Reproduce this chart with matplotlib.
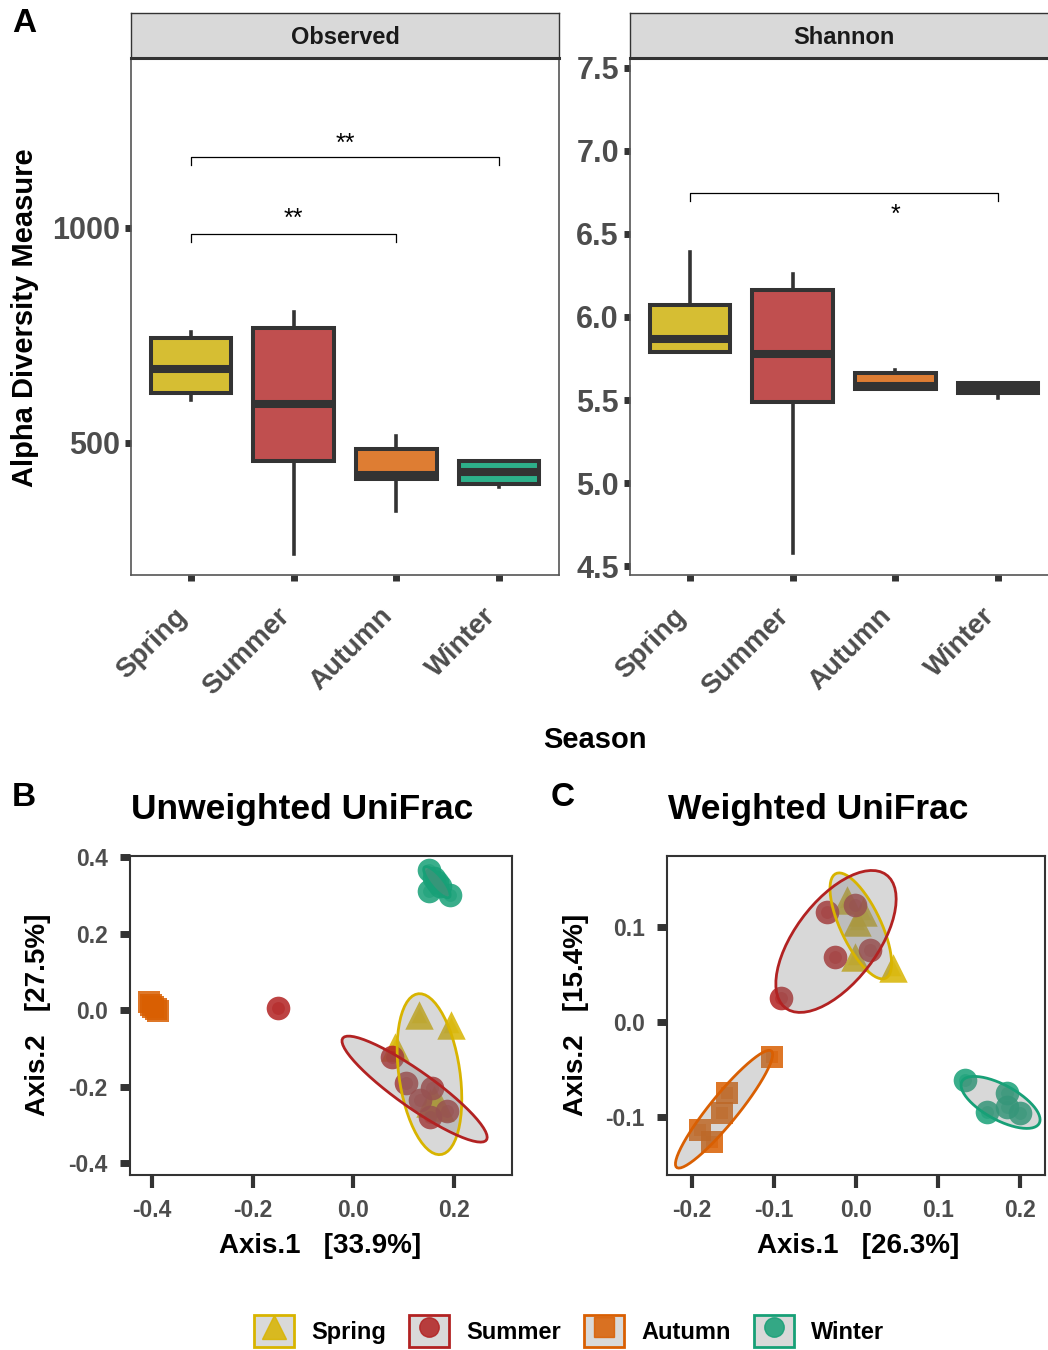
import numpy as np
import matplotlib
matplotlib.use("Agg")
import matplotlib.pyplot as plt
from matplotlib.patches import Polygon, Patch
from matplotlib.lines import Line2D
from matplotlib.legend_handler import HandlerTuple
from matplotlib.transforms import ScaledTranslation

plt.rcParams['font.family'] = ['Liberation Sans', 'DejaVu Sans']
plt.rcParams['font.weight'] = 'bold'

W, H = 1048, 1350

seasons = ['Spring', 'Summer', 'Autumn', 'Winter']
box_fill = ['#D6BE33', '#C04F4F', '#DE7D33', '#2DB08A']
pt_col = ['#D8B400', '#B22222', '#D95F02', '#17A077']
markers = ['^', 'o', 's', 'o']
pt_size = [420, 290, 260, 290]
ell_level = 0.8

# Panel A - Observed richness (box stats)
obs_lo = [600, 242, 342, 398]
obs_q1 = [616, 458, 416, 405]
obs_med = [672, 591, 426, 433]
obs_q3 = [744, 767, 486, 458]
obs_hi = [758, 805, 516, 458]

# Panel A - Shannon
sha_lo = [5.79, 4.58, 5.566, 5.51]
sha_q1 = [5.79, 5.49, 5.566, 5.54]
sha_med = [5.87, 5.78, 5.584, 5.57]
sha_q3 = [6.07, 6.16, 5.663, 5.60]
sha_hi = [6.39, 6.26, 5.68, 5.60]

# significance brackets: (from, to, height, label) and where the stars sit
obs_sig = [(1, 4, 1165, '**'), (1, 3, 986, '**')]
obs_star = [(2.5, 1180), (2.0, 1004)]
sha_sig = [(1, 4, 6.747, '*')]
sha_star = [(3.0, 6.575)]

# Panel B - unweighted UniFrac PCoA
unw_x = {
    'Spring': [0.131, 0.194, 0.083, 0.152, 0.172, 0.160],
    'Summer': [-0.150, 0.077, 0.156, 0.133, 0.152, 0.105, 0.185],
    'Autumn': [-0.406, -0.401, -0.397, -0.392, -0.388],
    'Winter': [0.150, 0.160, 0.166, 0.172, 0.150, 0.192],
}
unw_y = {
    'Spring': [-0.013, -0.039, -0.097, -0.243, -0.254, -0.235],
    'Summer': [0.005, -0.123, -0.204, -0.235, -0.280, -0.190, -0.265],
    'Autumn': [0.020, 0.014, 0.009, 0.003, -0.002],
    'Winter': [0.365, 0.346, 0.335, 0.325, 0.312, 0.300],
}

# Panel C - weighted UniFrac PCoA
wu_x = {
    'Spring': [-0.011, 0.009, 0.001, -0.001, 0.045],
    'Summer': [-0.035, -0.001, -0.026, 0.017, -0.091],
    'Autumn': [-0.102, -0.157, -0.163, -0.190, -0.176],
    'Winter': [0.133, 0.160, 0.184, 0.184, 0.200],
}
wu_y = {
    'Spring': [0.128, 0.116, 0.105, 0.068, 0.057],
    'Summer': [0.116, 0.123, 0.068, 0.076, 0.025],
    'Autumn': [-0.037, -0.075, -0.096, -0.114, -0.126],
    'Winter': [-0.061, -0.095, -0.075, -0.089, -0.096],
}


def add_ax(x0, y0, x1, y1):
    return fig.add_axes([x0 / W, 1 - y1 / H, (x1 - x0) / W, (y1 - y0) / H])


def cov_trob(pts, nu=5, maxit=25, tol=0.01):
    """t-distribution robust covariance (like MASS::cov.trob)"""
    n, p = pts.shape
    loc = pts.mean(0)
    w = np.ones(n)
    for _ in range(maxit):
        w0 = w
        X = pts - loc
        u, d, vt = np.linalg.svd(np.sqrt(w / w.sum())[:, None] * X, full_matrices=False)
        d = np.maximum(d, 1e-9)
        wX = X @ vt.T / d
        Q = (wX ** 2).sum(1)
        w = (nu + p) / (nu + Q)
        loc = (w[:, None] * pts).sum(0) / w.sum()
        if np.all(np.abs(w - w0) < tol):
            break
    sX = np.sqrt(w)[:, None] * X
    return loc, sX.T @ sX / n


def ellipse_pts(xs, ys, level=0.95, seg=60):
    pts = np.column_stack([xs, ys])
    center, shape = cov_trob(pts)
    dfd = len(xs) - 1
    fq = dfd / 2 * ((1 - level) ** (-2 / dfd) - 1)
    radius = np.sqrt(2 * fq)
    L = np.linalg.cholesky(shape + np.eye(2) * 1e-10)
    ang = np.linspace(0, 2 * np.pi, seg)
    circ = np.column_stack([np.cos(ang), np.sin(ang)])
    return center + radius * circ @ L.T


fig = plt.figure(figsize=(W / 100, H / 100), dpi=100)
shift = ScaledTranslation(-0.17, -0.17, fig.dpi_scale_trans)


def box_panel(ax, lo, q1, med, q3, hi, sig, star, ylim, yticks, drop):
    stats = []
    for i in range(4):
        stats.append(dict(whislo=lo[i], q1=q1[i], med=med[i], q3=q3[i], whishi=hi[i]))
    bp = ax.bxp(stats, positions=[1, 2, 3, 4], widths=0.78, showfliers=False,
                showcaps=False, patch_artist=True,
                boxprops=dict(edgecolor='#333333', linewidth=2.9),
                whiskerprops=dict(color='#333333', linewidth=2.6),
                medianprops=dict(color='#333333', linewidth=5.8, solid_capstyle='butt'))
    for patch, c in zip(bp['boxes'], box_fill):
        patch.set_facecolor(c)
    for (a, b, yv, lab), sy in zip(sig, star):
        ax.plot([a, a, b, b], [yv - drop, yv, yv, yv - drop], color='black', lw=0.9)
        ax.text(sy[0], sy[1], lab, ha='center', va='baseline', fontsize=18,
                fontweight='normal')
    ax.set_xlim(0.42, 4.58)
    ax.set_ylim(*ylim)
    ax.set_yticks(yticks)
    ax.set_yticklabels([('%g' % v) if v >= 100 else ('%.1f' % v) for v in yticks])
    ax.set_xticks([1, 2, 3, 4])
    ax.set_xticklabels(seasons, rotation=45, ha='right', va='top',
                       rotation_mode='anchor')
    ax.tick_params(length=4, width=5, color='#333333', labelcolor='#4d4d4d',
                   labelsize=22, pad=4)
    for t in ax.get_xticklabels():
        t.set_fontsize(20)
        t.set_transform(t.get_transform() + shift)
    for s in ax.spines.values():
        s.set_color('#555555')
        s.set_linewidth(1.2)


def strip(x0, x1, label):
    sa = add_ax(x0, 13, x1, 58)
    sa.set_facecolor('#d9d9d9')
    sa.set_xticks([])
    sa.set_yticks([])
    for s in sa.spines.values():
        s.set_color('#333333')
        s.set_linewidth(1.0)
    sa.spines['bottom'].set_linewidth(2.2)
    sa.text(0.5, 0.45, label, transform=sa.transAxes, ha='center', va='center',
            fontsize=17, color='#1a1a1a')


# ---- Panel A ----
axA1 = add_ax(131, 58, 559, 575)
box_panel(axA1, obs_lo, obs_q1, obs_med, obs_q3, obs_hi, obs_sig, obs_star,
          (193, 1395), [500, 1000], 18)
strip(131, 559, 'Observed')

axA2 = add_ax(630, 58, 1058, 575)
box_panel(axA2, sha_lo, sha_q1, sha_med, sha_q3, sha_hi, sha_sig, sha_star,
          (4.446, 7.56), [4.5, 5.0, 5.5, 6.0, 6.5, 7.0, 7.5], 0.048)
axA2.spines['right'].set_visible(False)
strip(630, 1058, 'Shannon')

fig.text(25 / W, 1 - 318 / H, 'Alpha Diversity Measure', rotation=90,
         ha='center', va='center', fontsize=21)
fig.text(595 / W, 1 - 740 / H, 'Season', ha='center', va='center', fontsize=21)


# ---- Panels B and C ----
def pcoa_panel(ax, xs, ys, xlim, ylim, xticks, yticks):
    for i, s in enumerate(seasons):
        ax.scatter(xs[s], ys[s], marker=markers[i], s=pt_size[i], color=pt_col[i],
                   alpha=0.85, linewidths=0, zorder=2)
        ax.scatter(xs[s], ys[s], marker=markers[i], s=pt_size[i] * 0.3,
                   color=pt_col[i], alpha=0.5, linewidths=0, zorder=2)
    for i, s in enumerate(seasons):
        ell = ellipse_pts(xs[s], ys[s], level=ell_level)
        ax.add_patch(Polygon(ell, closed=True, facecolor='#7f7f7f', alpha=0.3,
                             edgecolor='none', zorder=3))
        ax.add_patch(Polygon(ell, closed=True, facecolor='none', edgecolor=pt_col[i],
                             lw=2.0, zorder=4))
    ax.set_xlim(*xlim)
    ax.set_ylim(*ylim)
    ax.set_xticks(xticks)
    ax.set_yticks(yticks)
    ax.set_xticklabels(['%.1f' % v for v in xticks])
    ax.set_yticklabels(['%.1f' % v for v in yticks])
    ax.tick_params(axis='x', length=9, width=3, color='#333333', labelcolor='#4d4d4d',
                   labelsize=16.5, pad=8)
    ax.tick_params(axis='y', length=7, width=5, color='#333333', labelcolor='#4d4d4d',
                   labelsize=16.5, pad=9)
    for s in ax.spines.values():
        s.set_color('#333333')
        s.set_linewidth(1.5)


axB = add_ax(130, 856, 512, 1175)
pcoa_panel(axB, unw_x, unw_y, (-0.4436, 0.315), (-0.431, 0.4026),
           [-0.4, -0.2, 0.0, 0.2], [-0.4, -0.2, 0.0, 0.2, 0.4])
axC = add_ax(667, 856, 1045, 1175)
pcoa_panel(axC, wu_x, wu_y, (-0.2305, 0.2305), (-0.161, 0.1747),
           [-0.2, -0.1, 0.0, 0.1, 0.2], [-0.1, 0.0, 0.1])

fig.text(302 / W, 1 - 810 / H, 'Unweighted UniFrac', ha='center', va='center', fontsize=25.5)
fig.text(818 / W, 1 - 810 / H, 'Weighted UniFrac', ha='center', va='center', fontsize=25.5)
fig.text(320 / W, 1 - 1246 / H, 'Axis.1   [33.9%]', ha='center', va='center', fontsize=20)
fig.text(858 / W, 1 - 1246 / H, 'Axis.1   [26.3%]', ha='center', va='center', fontsize=20)
fig.text(38 / W, 1 - 1015 / H, 'Axis.2   [27.5%]', rotation=90, ha='center',
         va='center', fontsize=20)
fig.text(576 / W, 1 - 1015 / H, 'Axis.2   [15.4%]', rotation=90, ha='center',
         va='center', fontsize=20)

fig.text(12 / W, 1 - 23 / H, 'A', ha='left', va='center', fontsize=24)
fig.text(12 / W, 1 - 798 / H, 'B', ha='left', va='center', fontsize=24)
fig.text(551 / W, 1 - 798 / H, 'C', ha='left', va='center', fontsize=24)

# legend: grey key box with coloured border, point drawn on top
handles = []
for i, s in enumerate(seasons):
    handles.append((Patch(facecolor='#d9d9d9', edgecolor=pt_col[i], lw=2),
                    Line2D([], [], marker=markers[i], color=pt_col[i], ls='',
                           ms=17 if markers[i] == '^' else 14, alpha=0.85)))
fig.legend(handles, seasons, loc='center', bbox_to_anchor=(569 / W, 1 - 1331 / H),
           ncol=4, frameon=False, fontsize=17, handlelength=1.7, handleheight=1.7,
           handletextpad=0.7, columnspacing=1.0,
           handler_map={tuple: HandlerTuple(ndivide=1)})

fig.savefig('out.png', dpi=100)
